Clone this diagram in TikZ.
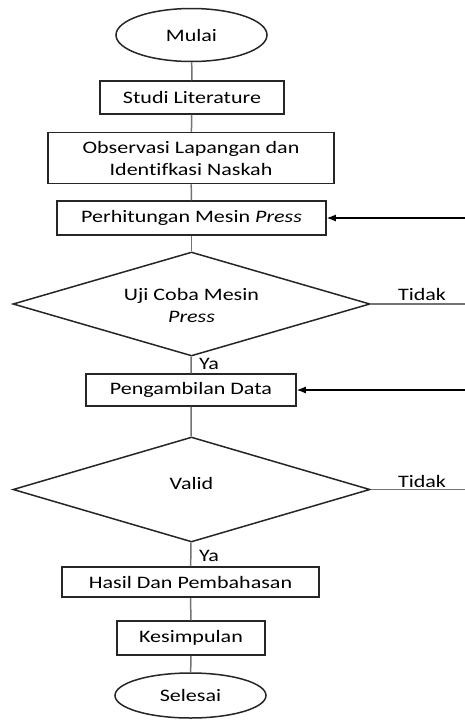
\documentclass[tikz,border=0pt]{standalone}
\usepackage{fontspec}
\setmainfont[FakeStretch=1.26,Ligatures=NoCommon]{Carlito}
\usetikzlibrary{shapes.geometric,arrows.meta}
\begin{document}
\begin{tikzpicture}[x=1pt,y=-1pt,
  every node/.style={font=\fontsize{17.5}{22}\selectfont, text=black},
  box/.style={draw=black!85, line width=1.5pt, rectangle, inner sep=0pt, align=center},
  term/.style={draw=black!85, line width=1.5pt, ellipse, inner sep=0pt},
  dec/.style={draw=black!85, line width=1.5pt, diamond, inner sep=0pt},
  dtext/.style={align=center, inner sep=0pt},
  conn/.style={draw=black!55, line width=1.5pt},
  arr/.style={draw=black, line width=1.2pt, -{Latex[length=9pt,width=7pt]}},
  lbl/.style={inner sep=0pt}]
\useasboundingbox (0,0) rectangle (465,720);
\fill[white] (0,0) rectangle (465,720);

\node[term, minimum width=151pt, minimum height=53pt] (mulai) at (191.5,35) {Mulai};
\node[box, minimum width=184pt, minimum height=33pt] (studi) at (192,97.5) {Studi Literature};
\node[box, minimum width=286pt, minimum height=51pt] (obs) at (191,158) {Observasi Lapangan dan\\Identifkasi Naskah};
\node[box, minimum width=269pt, minimum height=34pt] (hitung) at (191.5,218) {Perhitungan Mesin \textit{Press}};
\node[dec, minimum width=357pt, minimum height=104pt] (uji) at (191.5,304) {};
\node[dtext] (ujit) at (191.5,305) {Uji Coba Mesin\\\textit{Press}};
\node[box, minimum width=210pt, minimum height=32pt] (ambil) at (191,390) {Pengambilan Data};
\node[dec, minimum width=357pt, minimum height=105pt] (valid) at (191.5,489.5) {};
\node[dtext] (validt) at (191.5,483) {Valid};
\node[box, minimum width=257pt, minimum height=30pt] (hasil) at (190.5,582) {Hasil Dan Pembahasan};
\node[box, minimum width=148pt, minimum height=34pt] (kesim) at (191,638) {Kesimpulan};
\node[term, minimum width=151pt, minimum height=45pt] (selesai) at (190.5,695.5) {Selesai};

\draw[conn] (mulai) -- (studi);
\draw[conn] (studi) -- (obs);
\draw[conn] (obs) -- (hitung);
\draw[conn] (hitung) -- (uji);
\draw[conn] (uji) -- (ambil);
\draw[conn] (ambil) -- (valid);
\draw[conn] (valid) -- (hasil);
\draw[conn] (hasil) -- (kesim);
\draw[conn] (kesim) -- (selesai);

\coordinate (t1) at (466,304);
\coordinate (t2) at (466,489.5);
\coordinate (r1) at (466,218);
\coordinate (r2) at (466,390);
\draw[conn] (uji.east) -- (t1);
\draw[conn] (valid.east) -- (t2);
\draw[arr] (r1) -- (hitung.east);
\draw[arr] (r2) -- (ambil.east);

\node[lbl] (tidak1) at (422,294) {Tidak};
\node[lbl] (tidak2) at (422,481) {Tidak};
\node[lbl] (ya1) at (209,364) {Ya};
\node[lbl] (ya2) at (209,556) {Ya};
\end{tikzpicture}
\end{document}
